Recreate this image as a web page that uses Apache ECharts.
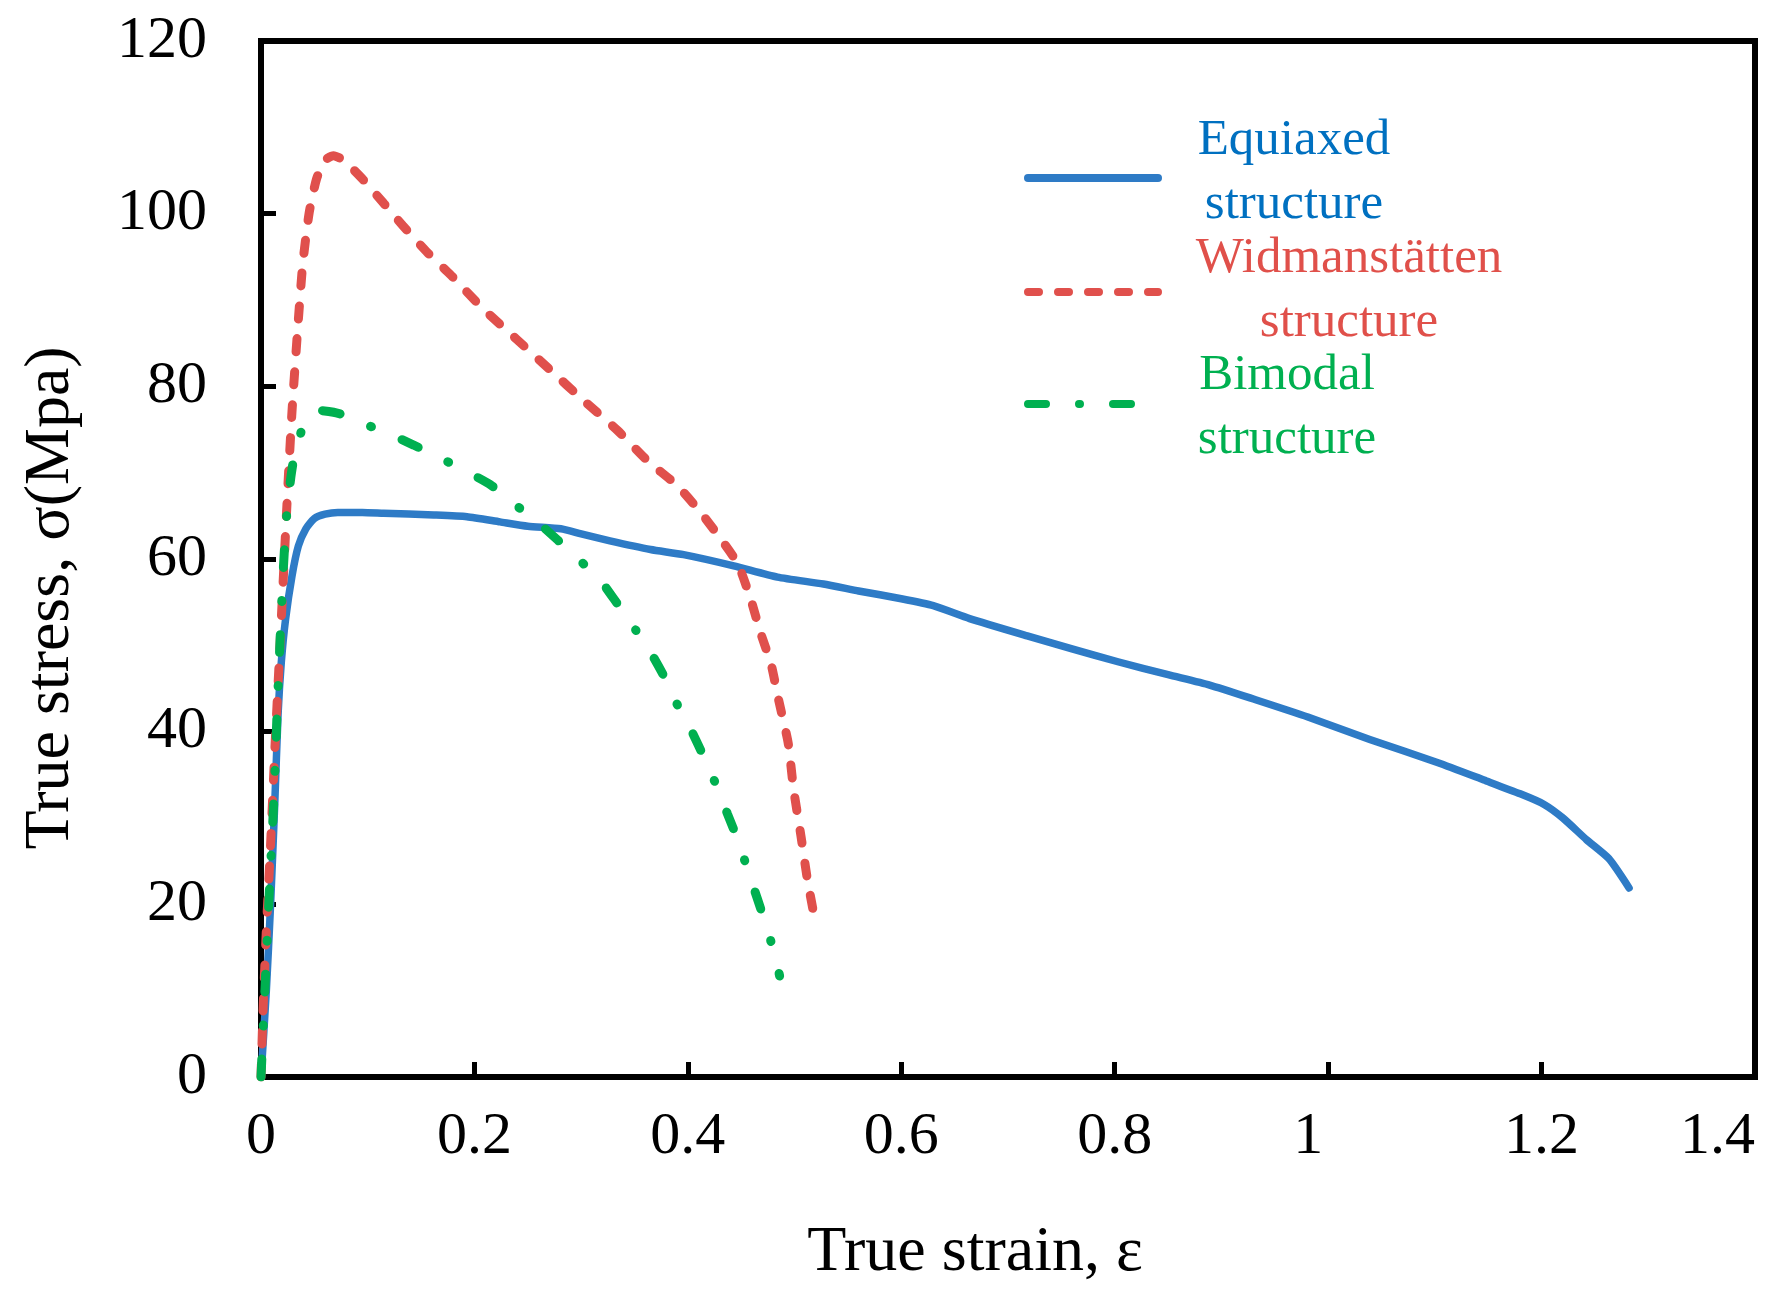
<!DOCTYPE html>
<html>
<head>
<meta charset="utf-8">
<script src="https://cdn.jsdelivr.net/npm/echarts@6/dist/echarts.min.js"></script>
<style>
  html, body { margin: 0; padding: 0; background: #fff; }
  #chart { width: 1786px; height: 1299px; }
</style>
</head>
<body>
<div id="chart"></div>
<script>
// true strain / true stress curves
var equiaxed = [
  [0, 0], [0.005, 10], [0.009, 20], [0.013, 32], [0.016, 42], [0.019, 48], [0.023, 53],
  [0.029, 58], [0.035, 61.5], [0.042, 63.5], [0.05, 64.7], [0.06, 65.2], [0.072, 65.4],
  [0.095, 65.4], [0.115, 65.3], [0.162, 65.1], [0.193, 64.9],
  [0.224, 64.3], [0.25, 63.8], [0.281, 63.5], [0.30, 62.9], [0.327, 62.1], [0.365, 61.1],
  [0.396, 60.5], [0.443, 59.2], [0.484, 57.9], [0.527, 57.1], [0.56, 56.3], [0.6, 55.4],
  [0.63, 54.6], [0.664, 53.1], [0.718, 51.1], [0.76, 49.6], [0.803, 48.1], [0.85, 46.6],
  [0.889, 45.4], [0.932, 43.7], [0.981, 41.7], [1.039, 39.1], [1.103, 36.4], [1.146, 34.4],
  [1.18, 32.8], [1.202, 31.6], [1.22, 30.0], [1.242, 27.5], [1.263, 25.3], [1.282, 21.9]
];
var widmanstatten = [
  [0, 0], [0.002, 8], [0.005, 17], [0.009, 27], [0.013, 38], [0.017, 48], [0.021, 58],
  [0.025, 68], [0.029, 77], [0.034, 86], [0.039, 94], [0.045, 100], [0.052, 104],
  [0.060, 106.2], [0.068, 106.7], [0.076, 106.3], [0.085, 105.3], [0.096, 103.9],
  [0.115, 101.2], [0.133, 98.6], [0.156, 95.5], [0.177, 93], [0.208, 89], [0.240, 85.4],
  [0.271, 81.9], [0.302, 78.4], [0.334, 74.9], [0.362, 71.4], [0.390, 68.5], [0.412, 65.4],
  [0.431, 62.3], [0.447, 59.4], [0.459, 55.3], [0.468, 51.5], [0.478, 47.8], [0.485, 43.7],
  [0.494, 38.7], [0.499, 33.4], [0.506, 27.9], [0.512, 22.9], [0.520, 17.6]
];
var bimodal = [
  [0, 0], [0.004, 11], [0.008, 22], [0.012, 32], [0.015, 42], [0.018, 51], [0.021, 59],
  [0.024, 65], [0.028, 69.5], [0.032, 72.5], [0.037, 74.5], [0.043, 76.3], [0.055, 77.2],
  [0.068, 77], [0.085, 76.4], [0.096, 75.7], [0.118, 74.6], [0.143, 73.2], [0.168, 71.7],
  [0.19, 70.3], [0.215, 68.6], [0.236, 66.5], [0.257, 64.5], [0.278, 62.2], [0.299, 59.8],
  [0.317, 57.7], [0.334, 54.8], [0.351, 51.8], [0.365, 49.2], [0.379, 46.1], [0.391, 42.9],
  [0.403, 40.2], [0.416, 36.8], [0.428, 33.4], [0.437, 30.5], [0.448, 27.1], [0.457, 23.6],
  [0.465, 20.7], [0.474, 17.3], [0.482, 13.9], [0.486, 11.7]
];
var seriesNames = ['Equiaxed\nstructure', 'Widmanstätten\nstructure', 'Bimodal\nstructure'];
var lineColors = ['#2e7bc6', '#e0504c', '#00b050'];
var textColors = ['#0070c0', '#e0504a', '#00b050'];

var serif = 'Liberation Serif';
var chart = echarts.init(document.getElementById('chart'));

// hand-placed legend (two-line centred captions like the original)
function legendItem(i, y, textX, textY, dash, lineEnd) {
  return {
    type: 'group',
    children: [{
      type: 'line',
      shape: { x1: 1028, y1: y, x2: lineEnd, y2: y },
      style: { stroke: lineColors[i], lineWidth: 8, lineDash: dash, lineCap: 'round' }
    }, {
      type: 'text',
      x: textX, y: textY,
      style: {
        text: seriesNames[i], fill: textColors[i],
        font: '51px "' + serif + '"', align: 'center', verticalAlign: 'middle',
        lineHeight: 64
      }
    }]
  };
}

chart.setOption({
  animation: false,
  backgroundColor: '#fff',
  grid: {
    left: 261, right: 31, top: 41, bottom: 222,
    show: true, borderColor: '#000', borderWidth: 6
  },
  xAxis: {
    type: 'value', min: 0, max: 1.4, interval: 0.2,
    name: 'True strain, ε', nameLocation: 'middle', nameGap: 144,
    nameTextStyle: { fontFamily: serif, fontSize: 64, color: '#000', padding: [0, 66, 0, 0] },
    axisLine: { lineStyle: { color: '#000', width: 6 } },
    axisTick: { inside: true, length: 15, lineStyle: { color: '#000', width: 5 } },
    axisLabel: {
      fontFamily: serif, fontSize: 60, color: '#000', margin: 30, alignMaxLabel: 'right',
      formatter: function (v) { return v === 1 ? '{s|1}' : String(v); },
      rich: { s: { fontFamily: serif, fontSize: 60, color: '#000', padding: [0, 40, 0, 0] } }
    },
    splitLine: { show: false }
  },
  yAxis: {
    type: 'value', min: 0, max: 120, interval: 20,
    name: 'True stress, σ(Mpa)', nameLocation: 'middle', nameGap: 178,
    nameTextStyle: { fontFamily: serif, fontSize: 64, color: '#000', padding: [0, 78, 0, 0] },
    axisLine: { lineStyle: { color: '#000', width: 6 } },
    axisTick: { inside: true, length: 15, lineStyle: { color: '#000', width: 5 } },
    axisLabel: { fontFamily: serif, fontSize: 60, color: '#000', margin: 54 },
    splitLine: { show: false }
  },
  graphic: [
    legendItem(0, 178, 1294, 173, null, 1158),
    legendItem(1, 292, 1349, 291, [11, 19], 1158),
    legendItem(2, 404, 1287, 408, [18, 33, 1, 33], 1142)
  ],
  series: [{
    name: seriesNames[0], type: 'line', data: equiaxed, symbol: 'none', smooth: 0.2,
    lineStyle: { color: lineColors[0], width: 7.5, cap: 'round', join: 'round' }
  }, {
    name: seriesNames[1], type: 'line', data: widmanstatten, symbol: 'none', smooth: 0.2,
    lineStyle: { color: lineColors[1], width: 9, type: [13, 20], cap: 'round' }
  }, {
    name: seriesNames[2], type: 'line', data: bimodal, symbol: 'none', smooth: 0.2,
    lineStyle: { color: lineColors[2], width: 9, type: [18, 33, 1, 33], cap: 'round' }
  }]
});
</script>
</body>
</html>
